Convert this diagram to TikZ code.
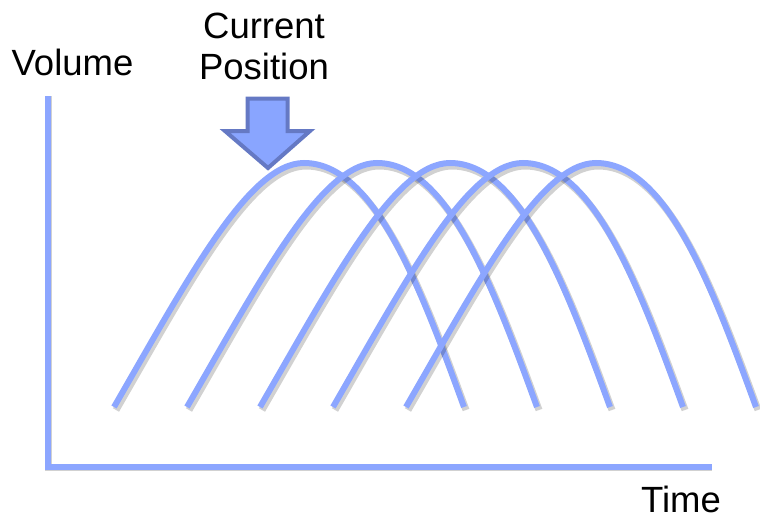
\documentclass[tikz,border=0pt]{standalone}
\usepackage{fontspec}
\setmainfont{Liberation Sans}
\usetikzlibrary{positioning}
\definecolor{wavblue}{RGB}{140, 166, 255}
\definecolor{arrblue}{RGB}{137, 165, 255}
\definecolor{arredge}{RGB}{101, 121, 196}

\tikzset{
  wave/.style={wavblue, line width=6pt},
  waveshadow/.style={black, opacity=0.18, line width=7pt},
  label/.style={font=\fontsize{36.5}{41}\selectfont, inner sep=0pt}
}

\begin{document}
\begin{tikzpicture}[x=1pt, y=-1pt]
            \useasboundingbox (0,0) rectangle (760,519);

            % Axes
            \coordinate (ytop) at (48,96);
            \coordinate (orig) at (48,467);
            \coordinate (xend) at (712,467);
            \draw[waveshadow, shift={(2,3)}] (ytop) -- (orig) -- (xend);
            \draw[wave] (ytop) -- (orig) -- (xend);
            \node[label, anchor=base] (vol) at (72.5,75) {Volume};
            \node[label, anchor=base] (time) at (681,512) {Time};

            % Product waves
            \foreach \p in {304,377,450,523,596} {
              \draw[waveshadow, shift={(2,3)}] (\p-190,407) .. controls (\p-115,277) and (\p-55,163) .. (\p,163)
                .. controls (\p+70,163) and (\p+115.5,285) .. (\p+160,407);
              \draw[wave] (\p-190,407) .. controls (\p-115,277) and (\p-55,163) .. (\p,163)
                .. controls (\p+70,163) and (\p+115.5,285) .. (\p+160,407);
            }

            % Mark current position
            \node[label, align=center, anchor=center] (cur) at (264,46) {Current\\Position};
            \filldraw[fill=arrblue, draw=arredge, line width=4pt, miter limit=20]
              (247.5,98.5) -- (287.5,98.5) -- (287.5,131) -- (310,131) -- (268,168)
              -- (225,131) -- (247.5,131) -- cycle;
        \end{tikzpicture}
\end{document}
